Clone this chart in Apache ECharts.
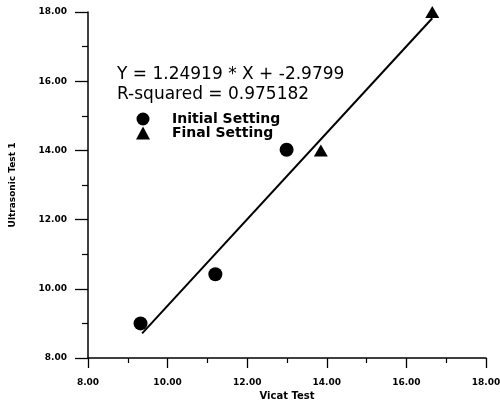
<!DOCTYPE html>
<html><head><meta charset="utf-8">
<script src="https://cdn.jsdelivr.net/npm/echarts@6/dist/echarts.min.js"></script>
<style>html,body{margin:0;padding:0;background:#fff}#c{width:500px;height:402px}</style>
</head><body><div id="c"></div>
<script>
const initialX = [9.32, 11.2, 12.99];
const initialY = [9.0, 10.42, 14.02];
const finalX = [13.85, 16.65];
const finalY = [14.0, 18.0];
const slope = 1.24919;
const intercept = -2.9799;
const rSquared = '0.975182';
const fitXRange = [9.36, 16.65];
const xTicks = [8, 10, 12, 14, 16, 18];
const yTicks = [8, 10, 12, 14, 16, 18];

const chart = echarts.init(document.getElementById('c'));
const font = '"DejaVu Sans", sans-serif';
const fitLine = fitXRange.map(x => [x, slope * x + intercept]);
const axisCommon = {
  axisLine: {show: true, lineStyle: {color: '#000', width: 1.5}},
  splitLine: {show: false},
  minorTick: {show: true, splitNumber: 2, length: 6, lineStyle: {color: '#000', width: 1.2}},
  axisLabel: {color: '#000', fontFamily: font, fontWeight: 'bold', fontSize: 9, formatter: v => v.toFixed(2)}
};
chart.setOption({
  animation: false,
  grid: {left: 88, right: 14, top: 12, bottom: 44, containLabel: false, outerBoundsMode: 'none'},
  xAxis: Object.assign({}, axisCommon, {
    type: 'value', min: xTicks[0], max: xTicks[xTicks.length-1], interval: 2,
    axisTick: {length: 10, lineStyle: {color: '#000', width: 1.3}},
    minorTick: {show: true, splitNumber: 2, length: 5, lineStyle: {color: '#000', width: 1.2}},
    axisLabel: Object.assign({}, axisCommon.axisLabel, {margin: 20}),
    name: 'Vicat Test', nameLocation: 'middle', nameGap: 33,
    nameTextStyle: {color: '#000', fontFamily: font, fontWeight: 'bold', fontSize: 10}
  }),
  yAxis: Object.assign({}, axisCommon, {
    type: 'value', min: yTicks[0], max: yTicks[yTicks.length-1], interval: 2,
    axisTick: {length: 13, lineStyle: {color: '#000', width: 1.3}},
    axisLabel: Object.assign({}, axisCommon.axisLabel, {margin: 21}),
    name: 'Ultrasonic Test 1', nameLocation: 'middle', nameGap: 71,
    nameTextStyle: {color: '#000', fontFamily: font, fontWeight: 'bold', fontSize: 9}
  }),
  legend: {
    orient: 'vertical', left: 131, top: 107, itemGap: 0,
    itemWidth: 14, itemHeight: 13,
    textStyle: {color: '#000', fontFamily: font, fontWeight: 'bold', fontSize: 14, padding: [0, 0, 0, 17]},
    itemStyle: {opacity: 1},
    data: [{name: 'Initial Setting', icon: 'circle'}, {name: 'Final Setting', icon: 'triangle'}]
  },
  graphic: [
    {type: 'text', left: 117, top: 66, style: {text: 'Y = 1.24919 * X + -2.9799', fill: '#000', font: '17px ' + font}},
    {type: 'text', left: 117, top: 86, style: {text: 'R-squared = ' + rSquared, fill: '#000', font: '17px ' + font}}
  ],
  series: [
    {name: 'Fit', type: 'line', data: fitLine, symbol: 'none', lineStyle: {color: '#000', width: 2}, z: 1},
    {name: 'Initial Setting', type: 'scatter', symbol: 'circle', symbolSize: 14,
     itemStyle: {color: '#000', opacity: 1}, data: initialX.map((x, i) => [x, initialY[i]])},
    {name: 'Final Setting', type: 'scatter', symbol: 'triangle', symbolSize: [14, 12],
     itemStyle: {color: '#000', opacity: 1}, data: finalX.map((x, i) => [x, finalY[i]])}
  ]
});
</script></body></html>
